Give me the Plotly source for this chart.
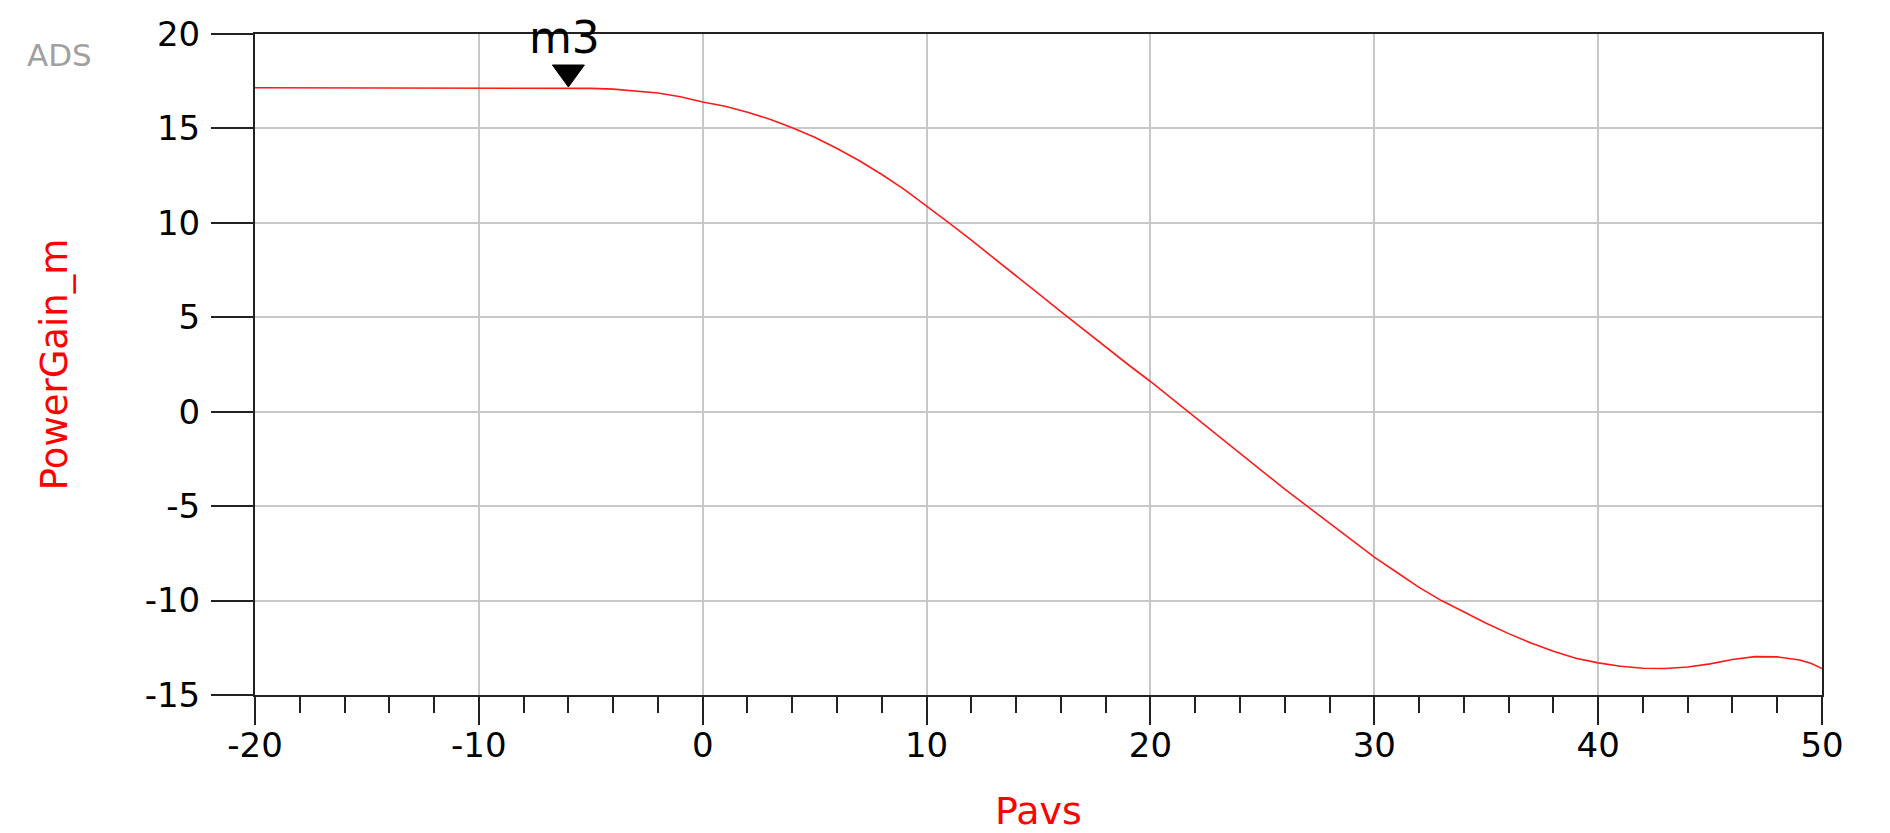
import numpy as np
import plotly.graph_objects as go

# ---- data ----
pavs = [-20, -18, -16, -14, -12, -10, -8, -6, -5, -4, -3, -2, -1, 0,
        1, 2, 3, 4, 5, 6, 7, 8, 9,
        10, 11, 12, 13, 14, 15, 16, 17, 18, 19,
        20, 21, 22, 23, 24, 25, 26, 27, 28, 29,
        30, 31, 32, 33, 34, 35, 36, 37, 38, 39,
        40, 41, 42, 43, 44, 45, 46, 47, 48, 49, 49.5, 50]
power_gain = [17.15, 17.15, 17.15, 17.15, 17.15, 17.15, 17.15, 17.14, 17.12, 17.08, 17.0, 16.88, 16.68, 16.4,
              16.17, 15.86, 15.49, 15.04, 14.53, 13.94, 13.29, 12.56, 11.77,
              10.9, 10.0, 9.08, 8.15, 7.2, 6.25, 5.3, 4.35, 3.4, 2.5,
              1.6, 0.65, -0.3, -1.25, -2.2, -3.15, -4.1, -5.0, -5.9, -6.8,
              -7.7, -8.5, -9.3, -10.0, -10.6, -11.2, -11.75, -12.25, -12.68, -13.05,
              -13.3, -13.48, -13.58, -13.6, -13.52, -13.35, -13.12, -12.97, -12.98, -13.15, -13.32, -13.6]
x_ticks = [-20, -10, 0, 10, 20, 30, 40, 50]
y_ticks = [-15, -10, -5, 0, 5, 10, 15, 20]
marker_name = "m3"
marker_x = -6
marker_y = float(np.interp(marker_x, pavs, power_gain))

# ---- geometry (page has an 8px body margin) ----
W, H = 1882, 825
L, R, T, B = 246.5, 67.5, 26, 137.5
plot_w = W - L - R
plot_h = H - T - B

fig = go.Figure()
fig.add_trace(go.Scatter(
    x=pavs, y=power_gain, mode="lines",
    line=dict(color="#ff1a1a", width=1.6),
    showlegend=False, hoverinfo="x+y"))

# marker triangle (tip touching the curve)
fig.add_shape(type="path", xref="x", yref="y",
              xsizemode="pixel", ysizemode="pixel",
              xanchor=marker_x, yanchor=marker_y,
              path="M -16,23 L 16,23 L 0,1 Z",
              fillcolor="#000000", line=dict(color="#000000", width=1))
fig.add_annotation(x=marker_x, y=marker_y, xref="x", yref="y",
                   text=marker_name, showarrow=False,
                   yshift=51, xshift=-4, yanchor="middle", xanchor="center",
                   font=dict(family="DejaVu Sans", size=44, color="#000000"))

# ADS logo text
fig.add_annotation(x=(16 - L) / plot_w, y=1 - (47 - T) / plot_h,
                   xref="paper", yref="paper", xanchor="left", yanchor="middle",
                   text="ADS", showarrow=False,
                   font=dict(family="DejaVu Sans", size=31, color="#a0a0a0"))

tick_font = dict(family="DejaVu Sans", size=34, color="#000000")
axis_col = "#222222"

fig.update_xaxes(
    range=[-20, 50], tickvals=x_ticks, ticktext=[str(v) for v in x_ticks],
    showline=True, linecolor=axis_col, linewidth=2, mirror=True,
    showgrid=True, gridcolor="#c8c8c8", gridwidth=1.5,
    zeroline=False,
    ticks="outside", ticklen=28, tickwidth=2, tickcolor=axis_col,
    tickfont=tick_font, ticklabelstandoff=-9,
    minor=dict(dtick=2, ticks="outside", ticklen=16, tickwidth=2,
               tickcolor=axis_col, showgrid=False),
    title=dict(text="Pavs", standoff=40,
               font=dict(family="DejaVu Sans", size=38, color="#ff0000")),
)
fig.update_yaxes(
    range=[-15, 20], tickvals=y_ticks, ticktext=[str(v) for v in y_ticks],
    showline=True, linecolor=axis_col, linewidth=2, mirror=True,
    showgrid=True, gridcolor="#c8c8c8", gridwidth=1.5,
    zeroline=False,
    ticks="outside", ticklen=42, tickwidth=2, tickcolor=axis_col,
    tickfont=tick_font, ticklabelstandoff=4,
    title=dict(text="PowerGain_m", standoff=66,
               font=dict(family="DejaVu Sans", size=37, color="#ff0000")),
)

fig.update_layout(
    width=W, height=H,
    margin=dict(l=L, r=R, t=T, b=B, autoexpand=False),
    paper_bgcolor="#ffffff", plot_bgcolor="#ffffff",
    font=dict(family="DejaVu Sans"),
)

fig.write_html("out.html")
